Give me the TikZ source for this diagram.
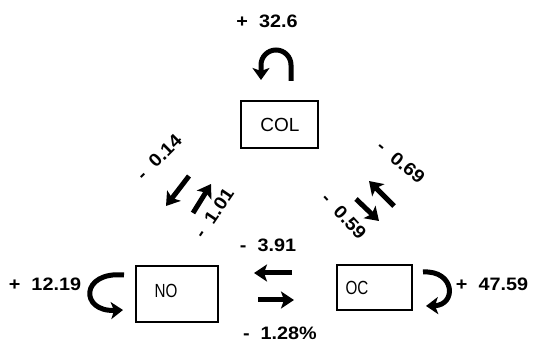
\documentclass[tikz,border=0pt]{standalone}
\usepackage{fontspec}
\setmainfont{Liberation Sans}
\newfontfamily\labfont[FakeStretch=1.1]{Liberation Sans}
\newfontfamily\narrowfont[FakeStretch=0.8]{Liberation Sans}
\usetikzlibrary{arrows.meta}
\begin{document}
\begin{tikzpicture}[x=1pt,y=-1pt,
  lab/.style={font=\labfont\bfseries\fontsize{18}{18}\selectfont, inner sep=0pt},
  box/.style={draw, line width=1.2pt, inner sep=0pt},
  boxtxt/.style={font=\fontsize{19}{19}\selectfont, inner sep=0pt},
  narrowtxt/.style={font=\narrowfont\fontsize{19}{19}\selectfont, inner sep=0pt},
  bigarrow/.style={line width=5pt, -{Stealth[length=13pt,width=17pt,inset=3pt]}},
  looparrow/.style={line width=5pt, -{Stealth[length=12pt,width=17pt,inset=3pt]}}]
\useasboundingbox (0,0) rectangle (538,344);
% boxes
\node[box, minimum width=77pt, minimum height=47pt] (col) at (279.5,124.5) {};
\node[boxtxt] (coltxt) at (280,125) {COL};
\node[box, minimum width=82pt, minimum height=56pt] (no) at (177,294) {};
\node[narrowtxt] (notxt) at (166,291) {NO};
\node[box, minimum width=75pt, minimum height=45pt] (oc) at (374.5,287.5) {};
\node[narrowtxt] (octxt) at (357,288) {OC};
% self loops
\coordinate (ta) at (291,81);
\coordinate (tb) at (261,80);
\draw[looparrow] (ta) -- (291,65) arc[start angle=0,end angle=-180,radius=15] -- (tb);
\coordinate (la) at (124,275);
\coordinate (lb) at (123,310);
\draw[looparrow] (la) .. controls (80,271) and (80,312) .. (lb);
\coordinate (ra) at (423,272);
\coordinate (rb) at (426,306);
\draw[looparrow] (ra) .. controls (455,270) and (457,305) .. (rb);
% horizontal arrows
\coordinate (h1a) at (292,273); \coordinate (h1b) at (254,273);
\coordinate (h2a) at (258,300); \coordinate (h2b) at (294,300);
\draw[bigarrow] (h1a) -- (h1b);
\draw[bigarrow] (h2a) -- (h2b);
% left diagonal arrows
\coordinate (d1a) at (189,176); \coordinate (d1b) at (166,206);
\coordinate (d2a) at (193,213); \coordinate (d2b) at (211,184);
\draw[bigarrow] (d1a) -- (d1b);
\draw[bigarrow] (d2a) -- (d2b);
% right diagonal arrows
\coordinate (e1a) at (394,206); \coordinate (e1b) at (369,181);
\coordinate (e2a) at (356,199); \coordinate (e2b) at (379,221);
\draw[bigarrow] (e1a) -- (e1b);
\draw[bigarrow] (e2a) -- (e2b);
% labels
\node[lab] (l1) at (267,21) {+\ \ 32.6};
\node[lab] (l2) at (45,284) {+\ \ 12.19};
\node[lab] (l3) at (492,284) {+\ \ 47.59};
\node[lab] (l4) at (268,245) {-\ \ 3.91};
\node[lab] (l5) at (280,333) {-\ \ 1.28\%};
\node[lab, rotate=45] (l6) at (159,157) {-\ \ 0.14};
\node[lab, rotate=56] (l7) at (214,213) {-\ \ 1.01};
\node[lab, rotate=-40] (l8) at (401,162) {-\ \ 0.69};
\node[lab, rotate=-47] (l9) at (344,216) {-\ \ 0.59};
\end{tikzpicture}
\end{document}
